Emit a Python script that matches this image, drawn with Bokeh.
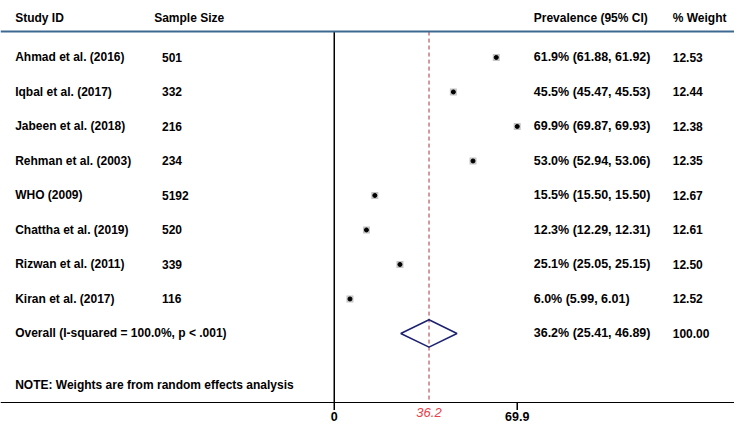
from bokeh.plotting import figure
from bokeh.models import ColumnDataSource, Range1d, Span
from bokeh.core.properties import value
from bokeh.embed import file_html
from bokeh.resources import INLINE

# ---- data ----
studies = ["Ahmad et al. (2016)", "Iqbal et al. (2017)", "Jabeen et al. (2018)",
           "Rehman et al. (2003)", "WHO (2009)", "Chattha et al. (2019)",
           "Rizwan et al. (2011)", "Kiran et al. (2017)"]
sample_sizes = [501, 332, 216, 234, 5192, 520, 339, 116]
prevalence = [61.9, 45.5, 69.9, 53.0, 15.5, 12.3, 25.1, 6.0]
ci_low = [61.88, 45.47, 69.87, 52.94, 15.50, 12.29, 25.05, 5.99]
ci_high = [61.92, 45.53, 69.93, 53.06, 15.50, 12.31, 25.15, 6.01]
weights = [12.53, 12.44, 12.38, 12.35, 12.67, 12.61, 12.50, 12.52]
overall_est = 36.2
overall_low = 25.41
overall_high = 46.89
overall_weight = 100.00
overall_label = "Overall  (I-squared = 100.0%, p < .001)"
note_label = "NOTE: Weights are from random effects analysis"
headers = ["Study ID", "Sample Size", "Prevalence (95% CI)", "% Weight"]
axis_ticks = [0, 69.9]

# ---- layout constants ----
FONT = "Liberation Sans"
rows = list(range(len(studies)))
overall_row = len(studies)
note_row = 9.5
header_row = -1.15
top_line = -0.75
axis_y = 10.0
ROW_PX = 402 / 11.65           # pixels per row unit
tick_len = 7.5 / ROW_PX
tick_lab_y = axis_y + 14 / ROW_PX
ref_lab_y = axis_y + 9.5 / ROW_PX

COL_STUDY = -121.9
COL_N_HEAD = -68.8
COL_N = -65.8
COL_CI = 76.2
COL_W = 129.3

src = ColumnDataSource(dict(
    y=rows, study=studies, n=[str(s) for s in sample_sizes], est=prevalence,
    ci=[f"{p:.1f}% ({lo:.2f}, {hi:.2f})" for p, lo, hi in zip(prevalence, ci_low, ci_high)],
    w=[f"{w:.2f}" for w in weights],
))

p = figure(width=734, height=424, output_backend="svg", toolbar_location=None,
           x_range=Range1d(-127.5, 152.9),
           y_range=Range1d(axis_y + 22 / ROW_PX, -1.65),
           x_axis_location=None, y_axis_location=None,
           min_border_left=0, min_border_right=0, min_border_top=0, min_border_bottom=0)
p.grid.visible = False
p.outline_line_color = None

# top rule and x axis line
p.add_layout(Span(location=top_line, dimension="width", line_color="#3d6890", line_width=2))
p.add_layout(Span(location=axis_y, dimension="width", line_color="black", line_width=1))

# axis ticks and labels (from axis_ticks through the plot's scales)
p.segment(x0=axis_ticks, y0=[axis_y] * len(axis_ticks), x1=axis_ticks,
          y1=[axis_y + tick_len] * len(axis_ticks), line_color="black", line_width=1.5)
p.text(x=axis_ticks, y=[tick_lab_y] * len(axis_ticks),
       text=["0" if t == 0 else f"{t}" for t in axis_ticks],
       text_font=value(FONT), text_font_style="bold", text_font_size="12.5px",
       text_align="center", text_baseline="middle")
p.text(x=[overall_est], y=[ref_lab_y], text=[f"{overall_est}"], text_font=value(FONT),
       text_font_style="italic", text_font_size="13px", text_color="#e8404a",
       text_align="center", text_baseline="middle")

# null line and overall line
p.segment(x0=[0], y0=[top_line], x1=[0], y1=[axis_y], line_color="black", line_width=1.5)
p.segment(x0=[overall_est], y0=[top_line], x1=[overall_est], y1=[axis_y],
          line_color="#a8353f", line_width=1, line_dash="4 3")

# study markers
p.scatter("est", "y", source=src, marker="square", size=7, fill_color="#c4c4c4", line_color=None)
p.scatter("est", "y", source=src, marker="circle", size=4, fill_color="black", line_color="black")

# pooled diamond
p.patch([overall_low, overall_est, overall_high, overall_est],
        [overall_row, overall_row - 0.397, overall_row, overall_row + 0.397],
        fill_color=None, line_color="#1c2270", line_width=1.5)

def txt(x, y, t, size="12px"):
    p.text(x=[x], y=[y], text=[t], text_font=value(FONT), text_font_style="bold",
           text_font_size=size, text_baseline="middle", text_align="left")

def col(x, field, size="12px"):
    p.text(x=x, y="y", text=field, source=src, text_font=value(FONT), text_font_style="bold",
           text_font_size=size, text_baseline="middle", text_align="left")

# headers
for hx, h in zip([COL_STUDY, COL_N_HEAD, COL_CI, COL_W], headers):
    txt(hx, header_row, h)

# study rows
col(COL_STUDY, "study")
col(COL_N, "n")
col(COL_CI, "ci", size="12.5px")
col(COL_W, "w")

# overall row and note
txt(COL_STUDY, overall_row, overall_label)
txt(COL_CI, overall_row, f"{overall_est:.1f}% ({overall_low:.2f}, {overall_high:.2f})", size="12.5px")
txt(COL_W, overall_row, f"{overall_weight:.2f}")
txt(COL_STUDY, note_row, note_label)

open("out.html", "w").write(file_html(p, INLINE))
